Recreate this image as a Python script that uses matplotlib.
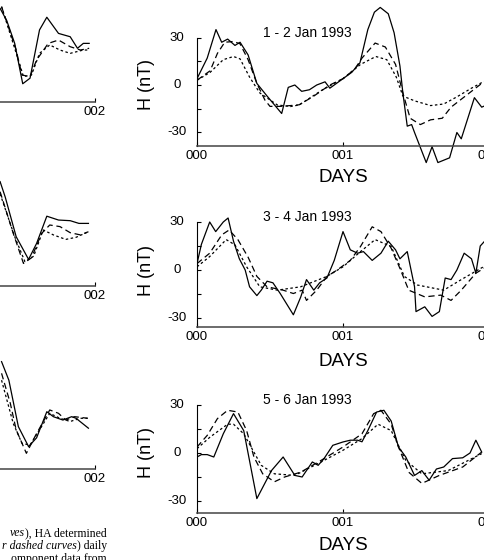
import matplotlib
matplotlib.use("Agg")
import matplotlib.pyplot as plt
from matplotlib.transforms import offset_copy

# ─── Data (days, nT) ─────────────────────────────────────────────────────────
titles = ["1 - 2 Jan 1993", "3 - 4 Jan 1993", "5 - 6 Jan 1993"]
tick_days = [0, 1, 2]
tick_labels = ["000", "001", "002"]
y_ticks = [-30, 0, 30]

# right column, panel 1
p1_obs_t = [0, 0.07, 0.13, 0.169, 0.21, 0.26, 0.295, 0.35, 0.41, 0.48, 0.58, 0.625,
            0.67, 0.717, 0.77, 0.82, 0.877, 0.91, 1.0, 1.06, 1.116, 1.17, 1.215, 1.255,
            1.31, 1.35, 1.39, 1.41, 1.44, 1.47, 1.49, 1.57, 1.61, 1.65, 1.73, 1.78,
            1.81, 1.90, 1.95, 2.0]
p1_obs_v = [4, 17, 35, 27, 29, 25, 27, 19, 1, -7, -18, -1.5,
            0, -4, -3, 0, 2, -2, 4, 8, 14, 35, 46, 49,
            45, 33, 12, -5, -26, -25, -30, -49, -39, -49, -46, -30,
            -34, -8, -14, -12]
p1_long_t = [0, 0.09, 0.14, 0.19, 0.25, 0.295, 0.35, 0.41, 0.465, 0.5, 0.57, 0.64,
             0.7, 0.8, 0.91, 1.0, 1.08, 1.13, 1.22, 1.29, 1.36, 1.41, 1.46, 1.53,
             1.60, 1.68, 1.74, 1.81, 1.88, 1.95, 2.0]
p1_long_v = [3, 9, 20, 27, 27.5, 26, 16, 1, -9.5, -13.5, -13.5, -13,
             -12.5, -7, 0, 4, 10, 17, 26.5, 24, 13, -5, -21, -25,
             -22, -21, -14, -9, -4, 1, 3]
p1_short_t = [0, 0.09, 0.18, 0.25, 0.295, 0.36, 0.43, 0.55, 0.64, 0.7, 0.86, 1.0,
              1.12, 1.225, 1.30, 1.365, 1.41, 1.49, 1.60, 1.69, 1.78, 1.88, 1.95, 2.0]
p1_short_v = [3, 8, 16, 18, 16.5, 5, -5, -12.6, -13.6, -12.6, -3, 4,
              13, 18, 16, 5, -7, -10, -13, -12, -7.5, -2, 1.5, 3]

# right column, panel 2
p2_obs_t = [0, 0.03, 0.087, 0.128, 0.18, 0.213, 0.25, 0.29, 0.33, 0.36, 0.41, 0.44,
            0.48, 0.52, 0.57, 0.66, 0.71, 0.75, 0.80, 0.84, 0.89, 0.94, 1.0, 1.05,
            1.10, 1.14, 1.20, 1.26, 1.31, 1.36, 1.39, 1.44, 1.49, 1.50, 1.56, 1.61,
            1.66, 1.70, 1.74, 1.78, 1.83, 1.88, 1.91, 1.94, 1.97]
p2_obs_v = [4, 16, 30, 24, 30, 32.5, 18, 7, 0, -10.5, -16, -12.6,
            -7, -8, -14.7, -28, -17, -6, -12.6, -8, -5, 6, 24, 12.6,
            10.5, 11.5, 6, 10.5, 18, 12.6, 7, 11.5, -10.5, -26, -23, -29,
            -26, -5, -6, 0, 10.5, 7, -2, 15, 18]
p2_long_t = [0, 0.087, 0.17, 0.22, 0.28, 0.35, 0.41, 0.48, 0.59, 0.66, 0.72, 0.75,
             0.82, 0.89, 0.96, 1.05, 1.12, 1.20, 1.26, 1.33, 1.39, 1.45, 1.56, 1.67,
             1.74, 1.81, 1.91, 2.0]
p2_long_v = [4, 10.5, 22, 25, 19, 8, -4, -10.5, -12.6, -14.7, -12.6, -19,
             -12.6, -4, 0, 6, 14.7, 27, 24, 13.6, 1, -12.6, -16.8, -15.7,
             -19, -12.6, -2, 3]
p2_short_t = [0, 0.087, 0.2, 0.26, 0.34, 0.43, 0.55, 0.71, 0.89, 1.0, 1.12, 1.22,
              1.33, 1.42, 1.51, 1.69, 1.81, 2.0]
p2_short_v = [2, 8.4, 19, 15.7, 2, -10.5, -12.6, -10.5, -4, 2, 11.5, 19,
              14.7, -4, -9.4, -12.6, -6, 4]

# right column, panel 3
p3_obs_t = [0, 0.03, 0.07, 0.115, 0.18, 0.25, 0.32, 0.41, 0.51, 0.59, 0.67, 0.72,
            0.79, 0.83, 0.87, 0.93, 1.0, 1.05, 1.10, 1.13, 1.17, 1.23, 1.28, 1.33,
            1.38, 1.43, 1.49, 1.54, 1.59, 1.64, 1.69, 1.75, 1.82, 1.87, 1.91, 1.95]
p3_obs_v = [-2.5, -1, -1, -2.5, 12, 24.6, 14, -28.5, -11, -2.5, -14, -15,
            -5.6, -7.7, -3.5, 4.8, 6.9, 8, 8, 7, 14, 25.6, 26.7, 20,
            3.75, -2.5, -14, -11, -17, -10, -8.75, -3.5, -3, 0, 8, 0.6]
p3_long_t = [0, 0.07, 0.14, 0.21, 0.28, 0.34, 0.39, 0.45, 0.53, 0.6, 0.71, 0.85,
             1.0, 1.13, 1.21, 1.26, 1.33, 1.38, 1.45, 1.54, 1.66, 1.82, 1.95]
p3_long_v = [3.75, 11, 21.5, 26.7, 25.6, 14, -2.5, -13, -18, -15, -12, -4.6,
             3.75, 12, 24.6, 26.7, 18, 3.75, -12, -19, -14, -8.75, 0.6]
p3_short_t = [0, 0.09, 0.21, 0.25, 0.32, 0.44, 0.53, 0.67, 0.85, 1.0, 1.13, 1.24,
              1.33, 1.43, 1.54, 1.72, 1.95]
p3_short_v = [2.7, 10, 18, 18, 12, -7.7, -13, -14, -5.6, 1.7, 9, 18,
              14, -4.6, -13, -11, -0.4]

# left column (only the end of each day-pair shows)
l1_obs_t = [1.35, 1.395, 1.45, 1.505, 1.555, 1.62, 1.67, 1.75, 1.83, 1.88, 1.92, 1.96]
l1_obs_v = [20.6, 13, -1.5, -27, -23.5, 7, 15, 4.8, 2.7, -4.6, -1.5, -1.5]
l1_long_t = [1.36, 1.46, 1.50, 1.555, 1.60, 1.68, 1.75, 1.83, 1.90, 1.96]
l1_long_v = [21.7, -5.7, -21.5, -22.5, -12, -1.5, 0.6, -3.6, -5.7, -4.6]
l1_short_t = [1.36, 1.475, 1.51, 1.565, 1.62, 1.69, 1.76, 1.83, 1.92, 1.96]
l1_short_v = [21.7, -12, -22.5, -21.5, -7.8, -2.5, -5.7, -7.8, -5.7, -5.7]

l2_obs_t = [1.35, 1.385, 1.46, 1.545, 1.60, 1.67, 1.75, 1.83, 1.89, 1.955]
l2_obs_v = [29.6, 20, -4.8, -19, -9, 8, 5.6, 5.2, 3.5, 3.5]
l2_long_t = [1.35, 1.44, 1.51, 1.565, 1.635, 1.69, 1.76, 1.83, 1.90, 1.955]
l2_long_v = [23.3, -2.7, -21.5, -18, -2.7, 2.5, 1.5, -2.3, -3.7, -1.7]
l2_short_t = [1.35, 1.45, 1.52, 1.58, 1.645, 1.715, 1.80, 1.87, 1.955]
l2_short_v = [22, -4.8, -20.4, -17, -0.6, -3.7, -6.5, -5.2, -1.7]

l3_obs_t = [1.36, 1.41, 1.475, 1.545, 1.60, 1.67, 1.715, 1.78, 1.84, 1.87, 1.955]
l3_obs_v = [29.6, 18, -11, -23.5, -18, -1.7, -4.8, -6.9, -4.8, -5.8, -12]
l3_long_t = [1.36, 1.42, 1.46, 1.53, 1.59, 1.69, 1.75, 1.80, 1.86, 1.95]
l3_long_v = [22.3, 3.5, -13, -27.7, -17, -0.6, -2.7, -6.9, -4.8, -5.8]
l3_short_t = [1.36, 1.44, 1.50, 1.555, 1.62, 1.69, 1.76, 1.83, 1.90, 1.95]
l3_short_v = [18, -9, -21.5, -22.5, -13, -2.7, -5.8, -7.8, -5.8, -5.8]

caption_lines = [("ves", "), HA determined"),
                 ("r dashed curves", ") daily"),
                 ("", "omponent data from")]

# ─── Layout (pixels) ─────────────────────────────────────────────────────────
W, H = 485, 560
SANS = "Liberation Sans"
SERIF = "Liberation Serif"
LONG = (0, (5, 3))
SHORT = (0, (2, 2))

fig = plt.figure(figsize=(W / 100, H / 100), dpi=100)


def fx(x):
    return x / W


def fy(y):
    return 1 - y / H


def make_axes(x0, x1, zero_px, scale, axis_px, left_visible=True):
    vmin, vmax = -60, 60
    top = zero_px - vmax * scale
    bottom = zero_px - vmin * scale
    ax = fig.add_axes([fx(x0), fy(bottom), (x1 - x0) / W, (bottom - top) / H])
    ax.patch.set_visible(False)
    ax.set_xlim(0, 2)
    ax.set_ylim(vmin, vmax)
    axis_val = (zero_px - axis_px) / scale
    for s in ["top", "right"]:
        ax.spines[s].set_visible(False)
    ax.spines["bottom"].set_position(("data", axis_val))
    ax.spines["bottom"].set_color("#444444")
    ax.spines["bottom"].set_linewidth(1.1)
    ax.spines["left"].set_bounds(axis_val, 30)
    ax.spines["left"].set_linewidth(0.8)
    ax.spines["left"].set_visible(left_visible)
    ax.set_xticks(tick_days)
    ax.set_xticklabels(tick_labels, fontsize=9.5, family=SANS)
    ax.set_yticks(y_ticks)
    ax.set_yticks([-15, 15], minor=True)
    ax.tick_params(axis="x", direction="in", length=3, width=0.8, pad=3)
    ax.tick_params(axis="y", which="both", direction="in", length=3, width=0.8,
                   labelleft=False)
    # y tick labels centred about 20 px left of the axis, as in the scan
    trans = offset_copy(ax.get_yaxis_transform(), fig=fig, x=-20, y=0, units="dots")
    if left_visible:
        for v in y_ticks:
            ax.text(0, v, str(v), transform=trans, ha="center", va="center",
                    fontsize=9.5, family=SANS)
    return ax


def draw(ax, obs, lng, sht):
    ax.plot(obs[0], obs[1], color="black", lw=0.9)
    ax.plot(lng[0], lng[1], color="black", lw=0.9, linestyle=LONG)
    ax.plot(sht[0], sht[1], color="black", lw=0.9, linestyle=SHORT)


right_cfg = [(85, 1.583, 146, 33, 178),
             (270, 1.6, 327, 217, 362),
             (453, 1.6, 513, 400, 545)]
right_data = [((p1_obs_t, p1_obs_v), (p1_long_t, p1_long_v), (p1_short_t, p1_short_v)),
              ((p2_obs_t, p2_obs_v), (p2_long_t, p2_long_v), (p2_short_t, p2_short_v)),
              ((p3_obs_t, p3_obs_v), (p3_long_t, p3_long_v), (p3_short_t, p3_short_v))]

for (zero, scale, axis_px, title_y, days_y), data, title in zip(right_cfg, right_data, titles):
    ax = make_axes(197, 489, zero, scale, axis_px)
    draw(ax, *data)
    fig.text(fx(307), fy(title_y), title, fontsize=10, family=SANS, ha="center", va="center")
    fig.text(fx(343), fy(days_y), "DAYS", fontsize=13.5, family=SANS, ha="center", va="center")
    fig.text(fx(147), fy(zero), "H (nT)", fontsize=13, family=SANS, rotation=90,
             ha="center", va="center")

left_cfg = [(41, 1.583, 102), (229, 1.6, 286), (409, 1.6, 469)]
left_data = [((l1_obs_t, l1_obs_v), (l1_long_t, l1_long_v), (l1_short_t, l1_short_v)),
             ((l2_obs_t, l2_obs_v), (l2_long_t, l2_long_v), (l2_short_t, l2_short_v)),
             ((l3_obs_t, l3_obs_v), (l3_long_t, l3_long_v), (l3_short_t, l3_short_v))]

for (zero, scale, axis_px), data in zip(left_cfg, left_data):
    ax = make_axes(-197, 95, zero, scale, axis_px, left_visible=False)
    draw(ax, *data)

# ─── Caption fragment (cut off by the crop) ─────────────────────────────────
renderer = fig.canvas.get_renderer()
for i, (ital, roman) in enumerate(caption_lines):
    y = 533 + i * 13
    t = fig.text(fx(107), fy(y), roman, fontsize=8.5, family=SERIF, ha="right", va="center",
                 color="black")
    if ital:
        x0 = t.get_window_extent(renderer).x0
        fig.text(x0 / W, fy(y), ital, fontsize=8.5, family=SERIF, style="italic",
                 ha="right", va="center", color="black")

fig.savefig("out.png", dpi=100)
